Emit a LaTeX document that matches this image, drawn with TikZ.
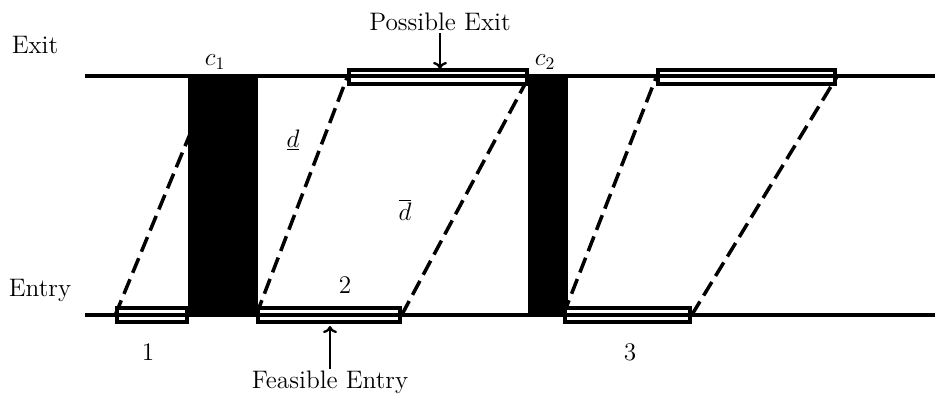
\documentclass[tikz,border=0pt]{standalone}
\usepackage{tikz}
\usetikzlibrary{arrows.meta}

\begin{document}
\begin{tikzpicture}[x=0.02cm,y=-0.02cm,font=\Large,
  win/.style={draw=black,line width=2pt,fill=white,inner sep=0pt,minimum height=0.29cm},
  blk/.style={fill=black,inner sep=0pt,minimum height=4.78cm},
  ax/.style={line width=1.9pt},
  dl/.style={line width=2pt,dash pattern=on 9pt off 4pt},
  lbl/.style={inner sep=1pt},
  ptr/.style={-{To[length=4pt,width=8pt]},line width=1.3pt}]
  \useasboundingbox (0,0) rectangle (935,396);
  % lines and time windows
  \coordinate (exL) at (85,76);
  \coordinate (exR) at (935,76);
  \coordinate (enL) at (85,315);
  \coordinate (enR) at (935,315);
  \coordinate (hid) at (214,76);
  \node[win,minimum width=1.4cm]  (w1) at (152,315) {};
  \node[win,minimum width=2.84cm] (w2) at (329,315) {};
  \node[win,minimum width=2.5cm]  (w3) at (627.5,315) {};
  \node[win,minimum width=3.56cm] (xa) at (438,77) {};
  \node[win,minimum width=3.54cm] (xb) at (746.5,77) {};
  \draw[dl] (w1.west) -- (hid);
  \draw[dl] (w2.west) -- (xa.west);
  \draw[dl] (w2.east) -- (xa.east);
  \draw[dl] (w3.west) -- (xb.west);
  \draw[dl] (w3.east) -- (xb.east);
  \node[blk,minimum width=1.4cm] (c1) at (223,195.5) {};
  \node[blk,minimum width=0.8cm] (c2) at (548,195.5) {};
  \node[win,minimum width=1.4cm]  at (w1) {};
  \node[win,minimum width=2.84cm] at (w2) {};
  \node[win,minimum width=2.5cm]  at (w3) {};
  \node[win,minimum width=3.56cm] at (xa) {};
  \node[win,minimum width=3.54cm] at (xb) {};
  \draw[ax] (exL) -- (exR);
  \draw[ax] (enL) -- (enR);
  % labels
  \node[lbl] (exit)  at (35,45)  {Exit};
  \node[lbl] (entry) at (40,290) {Entry};
  \node[lbl] (lc1) at (215,62) {$c_1$};
  \node[lbl] (lc2) at (545,62) {$c_2$};
  \node[lbl] (ld)  at (293,140) {$\underline{d}$};
  \node[lbl] (ldb) at (405,210) {$\overline{d}$};
  \node[lbl] (n1) at (148,352) {1};
  \node[lbl] (n2) at (345,285) {2};
  \node[lbl] (n3) at (630,352) {3};
  \node[lbl] (pex) at (440,22)  {Possible Exit};
  \node[lbl] (fen) at (330,382) {Feasible Entry};
  \draw[ptr] (pex.south) -- (440,69);
  \draw[ptr] (fen.north) -- (330,326);
\end{tikzpicture}
\end{document}
